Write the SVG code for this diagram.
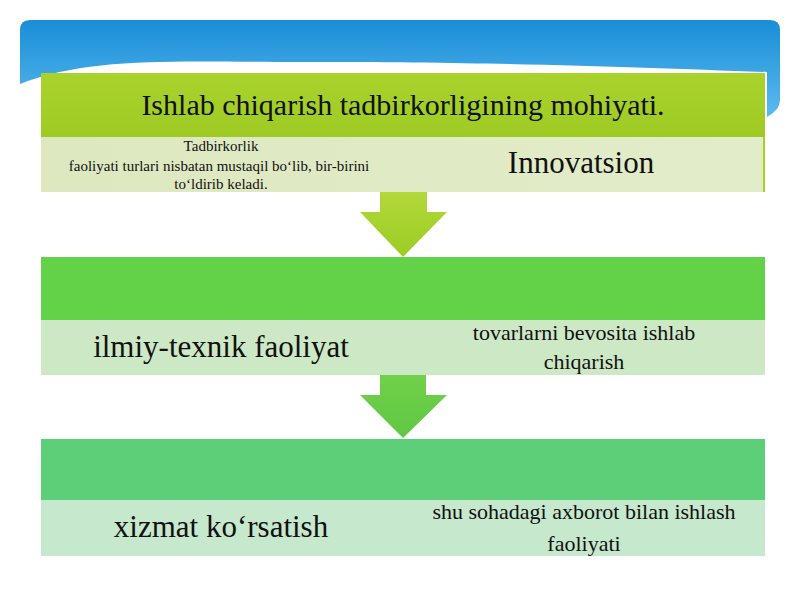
<svg xmlns="http://www.w3.org/2000/svg" width="800" height="600" viewBox="0 0 800 600">
<defs>
<linearGradient id="blue" x1="0" y1="0" x2="0" y2="1">
<stop offset="0" stop-color="#1a8ed6"/>
<stop offset="1" stop-color="#5cbaf0"/>
</linearGradient>
<linearGradient id="h1" x1="0" y1="0" x2="0" y2="1">
<stop offset="0" stop-color="#a9d22c"/>
<stop offset="1" stop-color="#9fca24"/>
</linearGradient>
<linearGradient id="a1" x1="0" y1="0" x2="0" y2="1">
<stop offset="0" stop-color="#b3d83a"/>
<stop offset="1" stop-color="#9ccc24"/>
</linearGradient>
<linearGradient id="a2" x1="0" y1="0" x2="0" y2="1">
<stop offset="0" stop-color="#72d04a"/>
<stop offset="1" stop-color="#5fc844"/>
</linearGradient>
<linearGradient id="r1" x1="0" y1="0" x2="1" y2="0">
<stop offset="0" stop-color="#dde8c0"/>
<stop offset="1" stop-color="#e3ecc9"/>
</linearGradient>
</defs>
<style>
.t{font-family:"Liberation Serif","Times New Roman",serif;fill:#111;text-anchor:middle}
.big{font-size:31px}
.mid{font-size:22px}
.sm{font-size:15px}
</style>
<rect width="800" height="600" fill="#ffffff"/>
<path d="M20,30 Q20,20 30,20 L770,20 Q780,20 780,30 L780,100 Q780,110 767,117 L767,72 C640,68 520,62 300,62 C180,62 90,56 20,84 Z" fill="url(#blue)"/>
<g id="connectors">
<polygon points="380,190 427,190 427,212 447,212 403,257 360,212 380,212" fill="url(#a1)"/>
<polygon points="380,375 426,375 426,395 447,395 403,438 360,395 380,395" fill="url(#a2)"/>
</g>
<g id="block1">
<rect x="41" y="73" width="724" height="64" fill="url(#h1)"/>
<rect x="41" y="137" width="722" height="55" fill="url(#r1)"/>
<rect x="763" y="137" width="2" height="55" fill="#a5cf29"/>
<text class="t" x="403" y="115" style="font-size:30px">Ishlab chiqarish tadbirkorligining mohiyati.</text>
<text class="t sm" x="221" y="151">Tadbirkorlik</text>
<text class="t sm" x="219" y="171">faoliyati turlari nisbatan mustaqil bo‘lib, bir-birini</text>
<text class="t sm" x="221" y="189">to‘ldirib keladi.</text>
<text class="t big" x="581" y="173">Innovatsion</text>
</g>
<g id="block2">
<rect x="41" y="257" width="724" height="63" fill="#64d248"/>
<rect x="41" y="320" width="724" height="55" fill="#cde8c4"/>
<text class="t big" x="221" y="357">ilmiy-texnik faoliyat</text>
<text class="t mid" x="584" y="340">tovarlarni bevosita ishlab</text>
<text class="t mid" x="584" y="369">chiqarish</text>
</g>
<g id="block3">
<rect x="41" y="439" width="724" height="61" fill="#5ccf78"/>
<rect x="41" y="500" width="724" height="56" fill="#c6e8cc"/>
<text class="t big" x="221" y="537">xizmat ko‘rsatish</text>
<text class="t mid" x="584" y="519">shu sohadagi axborot bilan ishlash</text>
<text class="t mid" x="584" y="551">faoliyati</text>
</g>
</svg>
